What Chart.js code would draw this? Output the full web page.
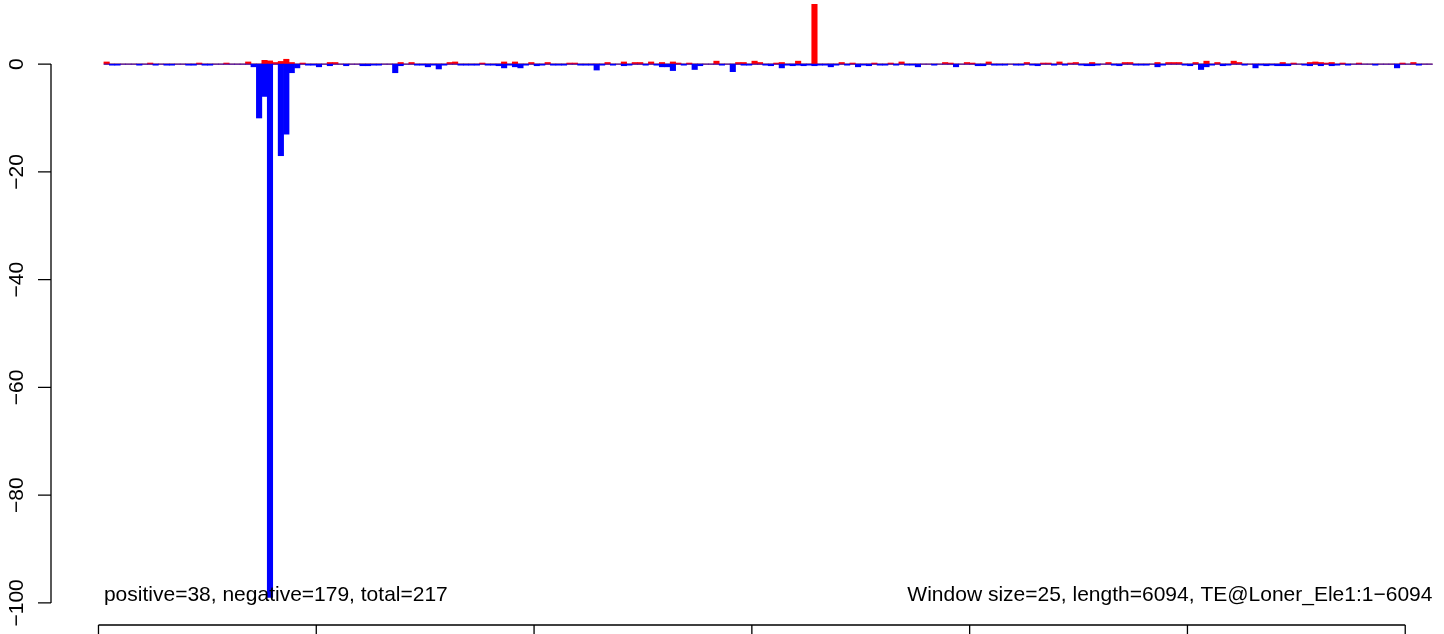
<!DOCTYPE html>
<html>
<head>
<meta charset="utf-8">
<script src="https://cdn.jsdelivr.net/npm/chart.js@4"></script>
<style>
  html, body { margin: 0; padding: 0; background: #ffffff; }
  canvas { display: block; }
</style>
</head>
<body>
<canvas id="chart" width="1444" height="634"></canvas>
<script>
// window counts, one entry per 25 bp window
const windowSize = 25;
const seqLength = 6094;

const positive = [
  0.4, 0, 0, 0, 0, 0, 0, 0, 0.2, 0,
  0, 0, 0, 0, 0, 0, 0, 0.2, 0, 0,
  0, 0, 0.2, 0, 0, 0, 0.4, 0, 0, 0.7,
  0.6, 0.3, 0.5, 0.9, 0.3, 0, 0.2, 0, 0, 0,
  0, 0.3, 0.3, 0, 0, 0, 0, 0, 0, 0,
  0, 0, 0, 0, 0.3, 0, 0.3, 0, 0, 0,
  0, 0, 0, 0.3, 0.4, 0, 0, 0, 0, 0.2,
  0, 0, 0, 0.4, 0, 0.4, 0, 0, 0.3, 0,
  0, 0.3, 0, 0, 0, 0.2, 0.2, 0, 0, 0,
  0, 0, 0.3, 0, 0, 0.4, 0, 0.3, 0.3, 0,
  0.4, 0, 0.3, 0, 0.4, 0.2, 0, 0.2, 0, 0,
  0, 0, 0.55, 0, 0, 0, 0.3, 0.3, 0, 0.55,
  0.3, 0, 0, 0.2, 0.3, 0, 0, 0.55, 0, 0,
  11.1, 0, 0, 0, 0, 0.3, 0, 0.2, 0, 0,
  0, 0.2, 0, 0, 0.2, 0, 0.4, 0, 0, 0,
  0, 0, 0, 0, 0.3, 0.2, 0, 0, 0.3, 0.2,
  0, 0, 0.4, 0, 0, 0, 0, 0, 0, 0.3,
  0, 0, 0.2, 0.2, 0, 0.4, 0, 0.2, 0.3, 0,
  0, 0.3, 0, 0, 0.3, 0, 0, 0.3, 0.3, 0,
  0, 0, 0, 0.3, 0, 0.3, 0.3, 0.3, 0, 0,
  0.3, 0, 0.55, 0, 0.3, 0, 0, 0.55, 0.3, 0,
  0, 0, 0, 0, 0, 0, 0.3, 0, 0.2, 0,
  0, 0.3, 0.4, 0.3, 0.2, 0.3, 0, 0.2, 0, 0,
  0.2, 0, 0, 0, 0, 0, 0, 0, 0.2, 0,
  0.3, 0, 0, 0
];

const negative = [
  0, -0.2, -0.2, 0, 0, 0, -0.2, 0, 0, -0.2,
  0, -0.2, -0.2, 0, 0, -0.2, -0.2, 0, -0.2, -0.2,
  0, 0, 0, 0, 0, 0, 0, -0.5, -10, -6,
  -99, 0, -17, -13, -1.6, -0.7, 0, -0.2, -0.2, -0.5,
  0, -0.3, 0, 0, -0.3, 0, 0, -0.3, -0.3, -0.2,
  -0.2, 0, 0, -1.6, -0.3, 0, 0, -0.2, -0.2, -0.5,
  -0.2, -0.9, -0.2, 0, 0, -0.2, -0.2, -0.2, -0.2, 0,
  -0.2, -0.2, -0.3, -0.7, -0.2, -0.5, -0.7, -0.2, 0, -0.3,
  -0.2, 0, -0.2, -0.2, -0.2, 0, 0, -0.2, -0.2, -0.2,
  -1.1, -0.2, 0, -0.2, 0, -0.3, -0.2, 0, 0, -0.2,
  0, -0.2, -0.5, -0.5, -1.2, 0, -0.2, 0, -1.0, -0.3,
  0, 0, 0, -0.2, 0, -1.4, 0, -0.2, -0.2, 0,
  0, -0.2, -0.3, 0, -0.7, -0.2, -0.3, -0.2, -0.3, -0.2,
  -0.3, -0.2, -0.2, -0.5, -0.2, 0, -0.2, 0, -0.5, -0.2,
  -0.3, 0, -0.2, -0.2, 0, -0.2, 0, -0.2, -0.2, -0.5,
  0, 0, -0.2, 0, 0, 0, -0.5, 0, 0, 0,
  -0.3, -0.3, 0, -0.2, -0.2, -0.2, 0, -0.2, -0.2, 0,
  -0.2, -0.3, 0, 0, -0.2, 0, -0.2, 0, 0, -0.2,
  -0.3, -0.3, -0.2, 0, 0, -0.2, -0.3, 0, 0, -0.2,
  -0.2, -0.2, 0, -0.5, -0.2, 0, 0, 0, -0.2, -0.3,
  0, -1.0, -0.5, -0.2, 0, -0.3, -0.2, 0, 0, -0.2,
  0, -0.7, -0.2, -0.3, -0.2, -0.3, -0.3, -0.3, 0, 0,
  -0.2, -0.3, 0, -0.3, 0, -0.3, -0.2, 0, -0.2, 0,
  0, 0, 0, -0.2, 0, 0, 0, -0.7, 0, 0,
  0, -0.2, 0, 0
];

const yTicks = [0, -20, -40, -60, -80, -100];
const xTicks = [0, 1000, 2000, 3000, 4000, 5000, 6000];

const leftNote = "positive=38, negative=179, total=217";
const rightNote = "Window size=25, length=6094, TE@Loner_Ele1:1\u22126094";

const fontFamily = '"Liberation Sans", Arial, Helvetica, sans-serif';

// window centres in bp
function windowCentres() {
  return positive.map((v, i) => (i + 1) * windowSize + windowSize / 2);
}

function toPoints(values) {
  let centres = windowCentres();
  return values.map((v, i) => ({ x: centres[i], y: v }));
}

function tickLabel(v) {
  if (v < 0) return "\u2212" + (-v);
  return String(v);
}

// R style axes: lines only over the tick range, rotated y labels
const axesPlugin = {
  id: "rAxes",
  afterDraw(chart) {
    let ctx = chart.ctx;
    let xs = chart.scales.x;
    let ys = chart.scales.y;
    let area = chart.chartArea;
    ctx.save();
    ctx.strokeStyle = "#000000";
    ctx.lineWidth = 1.3;
    ctx.fillStyle = "#000000";

    // y axis
    let yTop = ys.getPixelForValue(yTicks[0]);
    let yBottom = ys.getPixelForValue(yTicks[yTicks.length - 1]);
    ctx.beginPath();
    ctx.moveTo(area.left, yTop);
    ctx.lineTo(area.left, yBottom);
    yTicks.forEach(t => {
      let py = ys.getPixelForValue(t);
      ctx.moveTo(area.left, py);
      ctx.lineTo(area.left - 13, py);
    });
    ctx.stroke();

    ctx.font = "21px " + fontFamily;
    ctx.textAlign = "center";
    ctx.textBaseline = "alphabetic";
    yTicks.forEach(t => {
      let py = ys.getPixelForValue(t);
      ctx.save();
      ctx.translate(area.left - 28, py);
      ctx.rotate(-Math.PI / 2);
      ctx.fillText(tickLabel(t), 0, 0);
      ctx.restore();
    });

    // x axis
    let xLeft = xs.getPixelForValue(xTicks[0]);
    let xRight = xs.getPixelForValue(xTicks[xTicks.length - 1]);
    ctx.beginPath();
    ctx.moveTo(xLeft, area.bottom);
    ctx.lineTo(xRight, area.bottom);
    xTicks.forEach(t => {
      let px = xs.getPixelForValue(t);
      ctx.moveTo(px, area.bottom);
      ctx.lineTo(px, area.bottom + 13);
    });
    ctx.stroke();

    // notes along the bottom of the plot
    let centres = windowCentres();
    let noteY = ys.getPixelForValue(yTicks[yTicks.length - 1]) - 2;
    ctx.textAlign = "left";
    ctx.fillText(leftNote, xs.getPixelForValue(centres[0] - windowSize / 2), noteY);
    ctx.textAlign = "right";
    ctx.fillText(rightNote, xs.getPixelForValue(centres[centres.length - 1] + windowSize / 2), noteY);
    ctx.restore();
  }
};

document.addEventListener("DOMContentLoaded", function () {
  let centres = windowCentres();
  let zeroLine = [
    { x: centres[0] - windowSize / 2, y: 0 },
    { x: centres[centres.length - 1] + windowSize / 2, y: 0 }
  ];

  new Chart("chart", {
    data: {
      datasets: [
        {
          type: "line",
          data: zeroLine,
          borderColor: "#6e6e6e",
          borderWidth: 1.3,
          pointRadius: 0,
          order: 3
        },
        {
          type: "bar",
          label: "positive",
          data: toPoints(positive),
          backgroundColor: "#ff0000",
          borderWidth: 0,
          grouped: false,
          barPercentage: 1,
          categoryPercentage: 1,
          order: 2
        },
        {
          type: "bar",
          label: "negative",
          data: toPoints(negative),
          backgroundColor: "#0000ff",
          borderWidth: 0,
          grouped: false,
          barPercentage: 1,
          categoryPercentage: 1,
          order: 1
        }
      ]
    },
    options: {
      responsive: false,
      maintainAspectRatio: false,
      animation: false,
      layout: {
        padding: { left: 51, right: 0, top: 0, bottom: 9 }
      },
      plugins: {
        legend: { display: false },
        tooltip: { enabled: false }
      },
      scales: {
        x: { type: "linear", min: -218, max: 6178, offset: false, display: false },
        y: { type: "linear", min: -104.1, max: 11.9, display: false }
      }
    },
    plugins: [axesPlugin]
  });
});
</script>
</body>
</html>
